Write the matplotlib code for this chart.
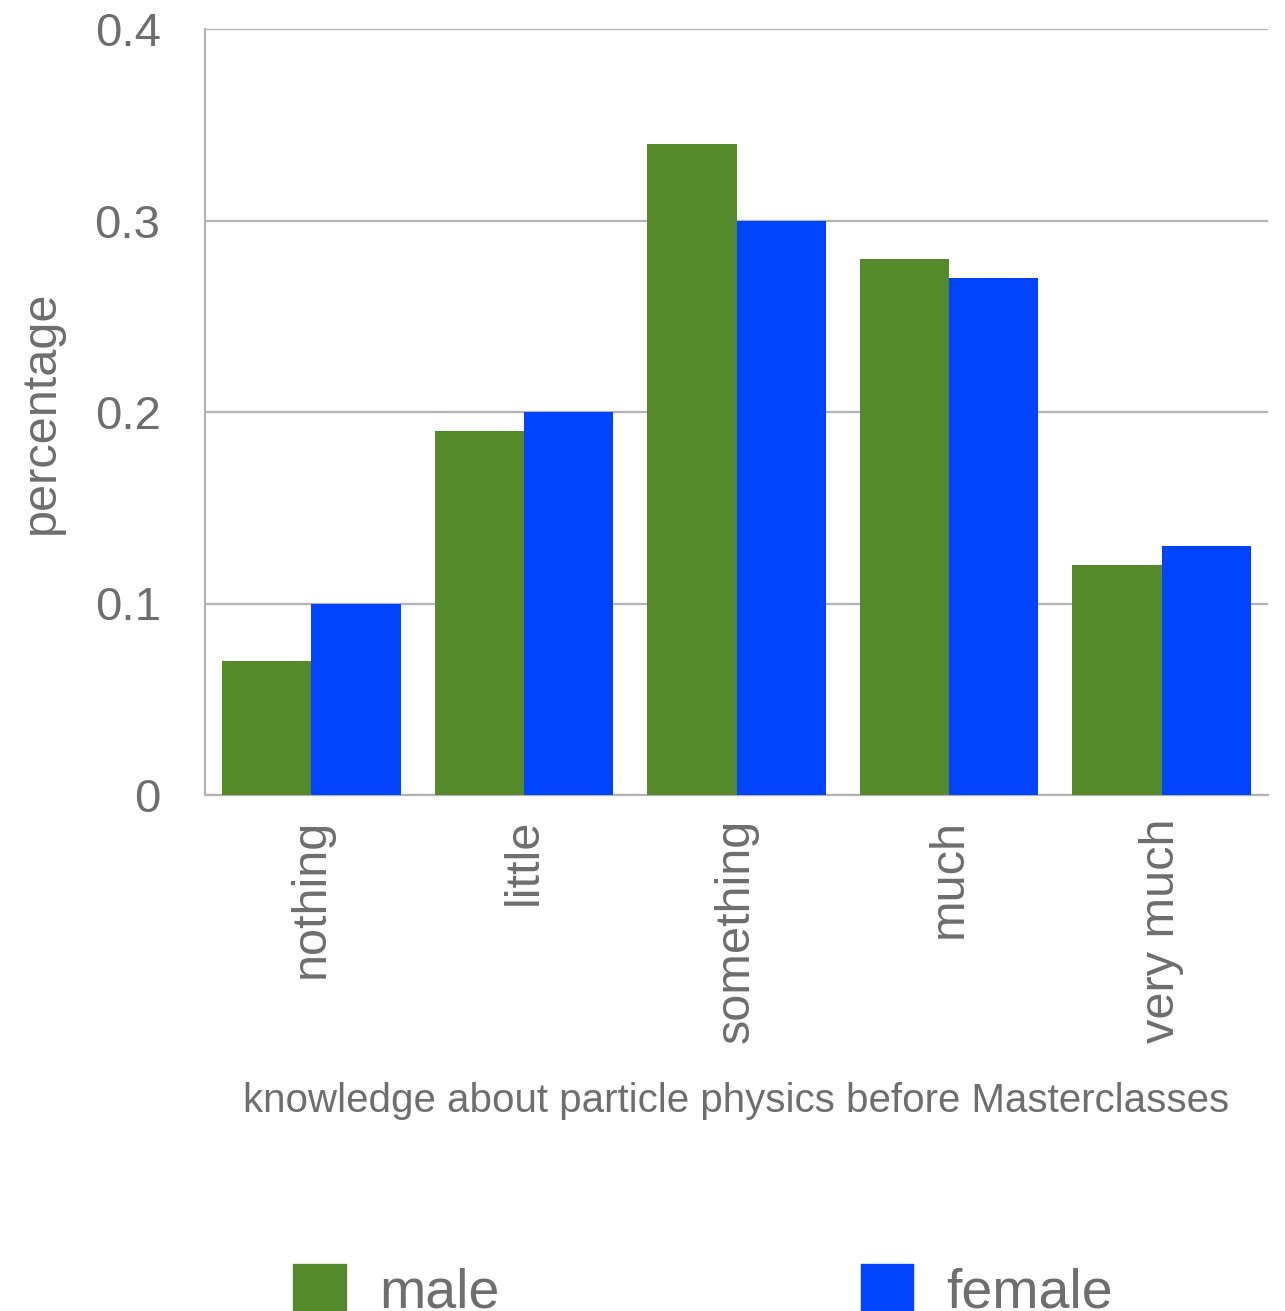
import matplotlib
matplotlib.use("Agg")
import matplotlib.pyplot as plt
import numpy as np
from matplotlib.patches import Patch

categories = ["nothing", "little", "something", "much", "very much"]
male = [0.07, 0.19, 0.34, 0.28, 0.12]
female = [0.10, 0.20, 0.30, 0.27, 0.13]
yticks = [0, 0.1, 0.2, 0.3, 0.4]
ytick_labels = ["0", "0.1", "0.2", "0.3", "0.4"]

GREEN = "#558A2B"
BLUE = "#0044FF"
GRID = "#B3B3B3"
TEXT = "#6E6E6E"

plt.rcParams['font.family'] = ['Liberation Sans', 'DejaVu Sans']

fig = plt.figure(figsize=(12.85, 13.11), dpi=100)
ax = fig.add_axes([205/1285, (1311-795)/1311, (1268-205)/1285, (795-29)/1311])

x = np.arange(len(categories))
w = 0.42
ax.bar(x - w/2, male, width=w, color=GREEN, label="male", zorder=3)
ax.bar(x + w/2, female, width=w, color=BLUE, label="female", zorder=3)

ax.set_xlim(-0.5, len(categories) - 0.5)
ax.set_ylim(0, 0.4)
ax.set_yticks(yticks)
ax.set_yticklabels(ytick_labels)
ax.set_xticks(x)
ax.set_xticklabels(categories, rotation=90)
ax.yaxis.grid(True, color=GRID, linewidth=1.6, zorder=0)
ax.set_axisbelow(True)
for s in ["top", "right"]:
    ax.spines[s].set_visible(False)
for s in ["left", "bottom"]:
    ax.spines[s].set_color(GRID)
    ax.spines[s].set_linewidth(1.6)
ax.tick_params(axis="both", length=0, colors=TEXT)
ax.tick_params(axis="y", labelsize=34, pad=32)
ax.tick_params(axis="x", labelsize=35, pad=17)

ax.set_ylabel("percentage", fontsize=35, color=TEXT, labelpad=22)
ax.set_xlabel("knowledge about particle physics before Masterclasses", fontsize=29, color=TEXT, labelpad=28)

handles = [Patch(color=GREEN, label="male"), Patch(color=BLUE, label="female")]
fig.legend(handles=handles, loc="lower left", bbox_to_anchor=(243/1285, -0.045), ncol=2,
           frameon=False, fontsize=40, labelcolor=TEXT, handlelength=0.95, handleheight=1.0,
           columnspacing=6.5, handletextpad=0.6)

fig.savefig("out.png", dpi=100)
